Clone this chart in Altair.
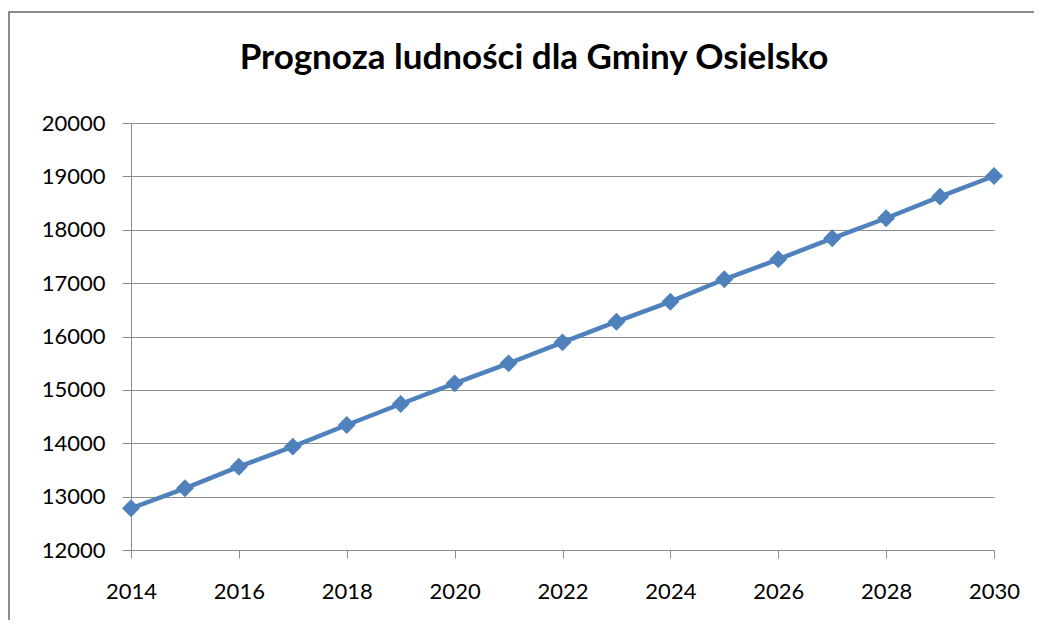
import altair as alt
import pandas as pd

years = list(range(2014, 2031))
population = [12781, 13156, 13561, 13936, 14342, 14735, 15122, 15497, 15890,
              16277, 16652, 17072, 17447, 17840, 18215, 18620, 19007]
title_text = ["Prognoza ludności dla Gminy Osielsko"]

df = pd.DataFrame({"rok": years, "ludnosc": population})

FONT = "Lato, sans-serif"
BLUE = "#4F81BD"
GRAY = "#8c8c8c"

x = alt.X("rok:Q",
          scale=alt.Scale(domain=[2014, 2030], nice=False, zero=False),
          axis=alt.Axis(values=list(range(2014, 2031, 2)), format="d", title=None,
                        grid=False, domain=True, domainColor=GRAY, tickColor=GRAY,
                        tickSize=8, labelFontSize=22, labelFont=FONT,
                        labelColor="#000000", labelPadding=23,
                        labelFlush=False, labelOverlap=False, labelBound=False))
y = alt.Y("ludnosc:Q",
          scale=alt.Scale(domain=[12000, 20000], nice=False, zero=False),
          axis=alt.Axis(values=list(range(12000, 20001, 1000)), format="d", title=None,
                        grid=True, gridColor=GRAY, domain=True, domainColor=GRAY,
                        tickColor=GRAY, tickSize=9, labelFontSize=22, labelFont=FONT,
                        labelColor="#000000", labelPadding=17))

base = alt.Chart(df)
line = base.mark_line(color=BLUE, strokeWidth=4.5).encode(x=x, y=y)
pts = base.mark_point(shape="diamond", filled=True, color=BLUE, size=320, opacity=1).encode(x=x, y=y)

frame = alt.Chart(pd.DataFrame({"a": [0]})).mark_rect(
    fill=None, stroke="#8c8c8c", strokeWidth=2
).encode(x=alt.value(-122), x2=alt.value(960), y=alt.value(-111), y2=alt.value(520))

title = alt.Chart(pd.DataFrame({"t": title_text})).mark_text(
    font=FONT, fontSize=35, fontWeight="bold", color="#000000",
    align="center", baseline="alphabetic"
).encode(text="t:N", x=alt.value(403), y=alt.value(-54))

chart = alt.layer(frame, line, pts, title).properties(
    width=863, height=427,
    autosize=alt.AutoSizeParams(type="none"),
    padding={"left": 123, "top": 115, "right": 40, "bottom": 70},
).configure_view(stroke=None)

chart.save("out.html", embed_options={"renderer": "svg", "actions": False})
